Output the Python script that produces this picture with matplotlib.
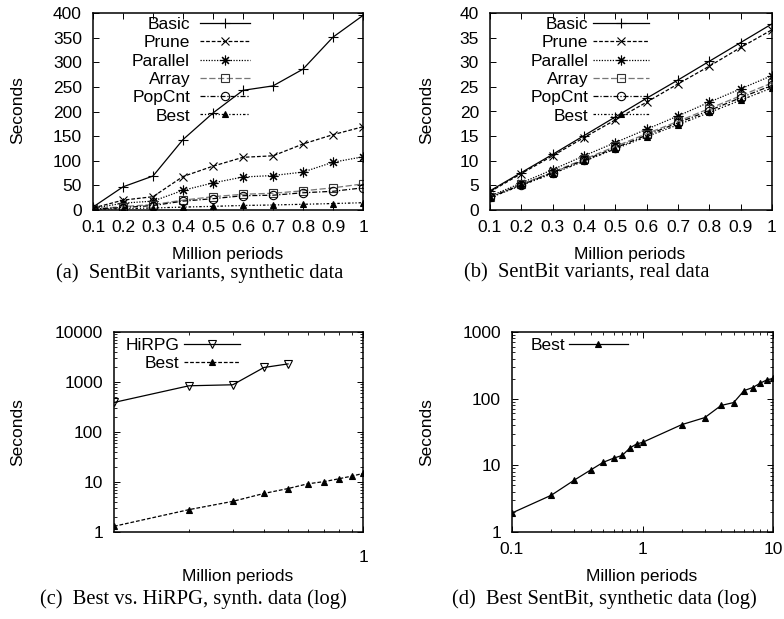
import matplotlib
matplotlib.use("Agg")
import matplotlib.pyplot as plt
from matplotlib.ticker import MultipleLocator, FixedLocator, NullFormatter, LogLocator, FixedFormatter

# ---------------- data ----------------
periods = [0.1, 0.2, 0.3, 0.4, 0.5, 0.6, 0.7, 0.8, 0.9, 1.0]
period_labels = ["0.1", "0.2", "0.3", "0.4", "0.5", "0.6", "0.7", "0.8", "0.9", "1"]

a_basic = [6, 47, 69, 143, 197, 243, 252, 286, 351, 395]
a_prune = [4, 20, 27, 68, 89, 107, 110, 134, 153, 169]
a_parallel = [3, 14, 18, 40, 55, 67, 70, 77, 97, 108]
a_array = [2, 7, 11, 20, 27, 32, 34, 39, 45, 53]
a_popcnt = [2, 5, 9, 18, 23, 29, 30, 35, 38, 45]
a_best = [1.3, 2.8, 4.1, 5.9, 7.4, 9.2, 10.2, 11.6, 13.1, 14.8]

b_basic = [3.9, 7.6, 11.3, 15.1, 18.9, 22.7, 26.4, 30.2, 34.0, 37.8]
b_prune = [3.7, 7.4, 11.0, 14.7, 18.3, 21.9, 25.6, 29.2, 33.0, 36.6]
b_parallel = [2.8, 5.5, 8.2, 11.0, 13.7, 16.4, 19.1, 21.9, 24.6, 27.3]
b_array = [2.6, 5.2, 7.7, 10.3, 12.9, 15.5, 18.0, 20.6, 23.2, 25.8]
b_popcnt = [2.6, 5.1, 7.6, 10.1, 12.6, 15.2, 17.7, 20.2, 22.8, 25.3]
b_best = [2.5, 5.0, 7.4, 9.9, 12.4, 14.9, 17.3, 19.8, 22.3, 24.8]

c_hirpg_periods = [0.1, 0.2, 0.3, 0.4, 0.5]
c_hirpg = [390, 840, 880, 1950, 2300]
c_best = [1.3, 2.8, 4.1, 5.9, 7.4, 9.2, 10.2, 11.6, 13.1, 14.8]

d_periods = [0.1, 0.2, 0.3, 0.4, 0.5, 0.6, 0.7, 0.8, 0.9, 1, 2, 3, 4, 5, 6, 7, 8, 9, 10]
d_best = [1.93, 3.56, 6.0, 8.5, 11.1, 12.8, 14.1, 18.2, 20.9, 22.1,
          40.8, 52, 79, 87.5, 132, 147, 171, 192, 201]

series_names = ["Basic", "Prune", "Parallel", "Array", "PopCnt", "Best"]

captions = ["(a)  SentBit variants, synthetic data",
            "(b)  SentBit variants, real data",
            "(c)  Best vs. HiRPG, synth. data (log)",
            "(d)  Best SentBit, synthetic data (log)"]

# ---------------- style ----------------
plt.rcParams['font.family'] = ['Liberation Sans', 'DejaVu Sans']
W, H = 784, 619
DPI = 100
fig = plt.figure(figsize=(W / DPI, H / DPI), dpi=DPI)
FS = 12.5
CAPFS = 14.8
SERIF = ['Liberation Serif', 'DejaVu Serif']

styles = {
    "Basic": dict(color='black', ls='-', marker='+', ms=7, mew=0.8, mfc='none'),
    "Prune": dict(color='black', ls=(0, (3, 1.5)), marker='x', ms=6, mew=0.8, mfc='none'),
    "Parallel": dict(color='black', ls=(0, (1, 1.2)), marker=(8, 2, 0), ms=7, mew=0.8, mfc='none'),
    "Array": dict(color='#777777', ls=(0, (5, 2)), marker='s', ms=6, mew=0.8, mfc='none', mec='#333333'),
    "PopCnt": dict(color='black', ls=(0, (4, 1.5, 1, 1.5)), marker='o', ms=6, mew=0.8, mfc='none'),
    "Best": dict(color='black', ls=(0, (2, 1.5, 1, 1.5, 1, 1.5)), marker='^', ms=5, mew=0.8),
}


def axes_px(l, r, t, b):
    return fig.add_axes([l / W, 1 - b / H, (r - l) / W, (b - t) / H])


def style_axes(ax):
    for s in ax.spines.values():
        s.set_linewidth(1.1)
    ax.tick_params(which='major', direction='in', top=True, right=True,
                   length=4, width=0.7, labelsize=FS)
    ax.tick_params(axis='y', which='major', pad=8)
    ax.tick_params(axis='x', which='major', pad=7)
    ax.tick_params(which='minor', direction='in', top=True, right=True,
                   length=2, width=0.6)


def fig_text(x, y, s, **kw):
    fig.text(x / W, 1 - y / H, s, ha='center', va='center', **kw)


def legend_px(ax, xr, yt, hl, pad):
    ax.legend(loc='upper right', bbox_to_anchor=(xr / W, 1 - yt / H),
              bbox_transform=fig.transFigure, frameon=False, markerfirst=False,
              fontsize=FS, handlelength=hl, handletextpad=pad,
              labelspacing=0.18, borderpad=0, borderaxespad=0, numpoints=1)


# ---------------- (a) ----------------
ax = axes_px(93, 363, 13, 210)
for name, ys in zip(series_names, [a_basic, a_prune, a_parallel, a_array, a_popcnt, a_best]):
    ax.plot(periods, ys, lw=0.9, label=name, **styles[name])
ax.set_xlim(0.1, 1.0)
ax.set_ylim(0, 400)
ax.xaxis.set_major_locator(FixedLocator(periods))
ax.xaxis.set_major_formatter(FixedFormatter(period_labels))
ax.yaxis.set_major_locator(MultipleLocator(50))
style_axes(ax)
legend_px(ax, 250, 17, 2.9, 0.55)

# ---------------- (b) ----------------
ax = axes_px(490, 772, 13, 210)
for name, ys in zip(series_names, [b_basic, b_prune, b_parallel, b_array, b_popcnt, b_best]):
    ax.plot(periods, ys, lw=0.9, label=name, **styles[name])
ax.set_xlim(0.1, 1.0)
ax.set_ylim(0, 40)
ax.xaxis.set_major_locator(FixedLocator(periods))
ax.xaxis.set_major_formatter(FixedFormatter(period_labels))
ax.yaxis.set_major_locator(MultipleLocator(5))
style_axes(ax)
legend_px(ax, 649, 17, 3.2, 0.3)

# ---------------- (c) ----------------
ax = axes_px(114, 363, 332, 532)
ax.plot(c_hirpg_periods, c_hirpg, lw=0.9, color='black', ls='-', marker='v',
        ms=6, mfc='none', mew=0.8, label='HiRPG')
ax.plot(periods, c_best, lw=0.9, color='black', ls=(0, (3, 1.5)), marker='^',
        ms=5, mew=0.8, label='Best')
ax.set_xscale('log')
ax.set_yscale('log')
ax.set_xlim(0.1, 1.0)
ax.set_ylim(1, 10000)
ax.xaxis.set_major_locator(FixedLocator([1.0]))
ax.xaxis.set_major_formatter(FixedFormatter(["1"]))
ax.xaxis.set_minor_locator(FixedLocator(periods[1:-1]))
ax.xaxis.set_minor_formatter(NullFormatter())
ax.yaxis.set_major_locator(FixedLocator([1, 10, 100, 1000, 10000]))
ax.yaxis.set_major_formatter(FixedFormatter(["1", "10", "100", "1000", "10000"]))
ax.yaxis.set_minor_locator(LogLocator(base=10, subs=range(2, 10)))
ax.yaxis.set_minor_formatter(NullFormatter())
style_axes(ax)
ax.tick_params(axis='x', which='major', pad=13)
legend_px(ax, 240, 338, 3.2, 0.3)

# ---------------- (d) ----------------
ax = axes_px(512, 773, 332, 532)
ax.plot(d_periods, d_best, lw=0.9, color='black', ls='-', marker='^',
        ms=5, mew=0.8, label='Best')
ax.set_xscale('log')
ax.set_yscale('log')
ax.set_xlim(0.1, 10)
ax.set_ylim(1, 1000)
ax.xaxis.set_major_locator(FixedLocator([0.1, 1, 10]))
ax.xaxis.set_major_formatter(FixedFormatter(["0.1", "1", "10"]))
ax.xaxis.set_minor_locator(LogLocator(base=10, subs=range(2, 10)))
ax.xaxis.set_minor_formatter(NullFormatter())
ax.yaxis.set_major_locator(FixedLocator([1, 10, 100, 1000]))
ax.yaxis.set_major_formatter(FixedFormatter(["1", "10", "100", "1000"]))
ax.yaxis.set_minor_locator(LogLocator(base=10, subs=range(2, 10)))
ax.yaxis.set_minor_formatter(NullFormatter())
style_axes(ax)
legend_px(ax, 628, 338, 3.4, 0.2)

# ---------------- labels ----------------
for (x, y) in [(18, 110), (427, 110), (18, 432), (427, 432)]:
    fig_text(x, y, "Seconds", fontsize=FS, rotation=90)
for (x, y) in [(228, 254), (630, 254), (238, 576), (642, 576)]:
    fig_text(x, y, "Million periods", fontsize=FS)
for (x, y), cap in zip([(200, 273), (587, 273), (193, 599), (604, 599)], captions):
    fig_text(x, y, cap, fontsize=CAPFS, family=SERIF)

fig.savefig("out.png", dpi=DPI)
